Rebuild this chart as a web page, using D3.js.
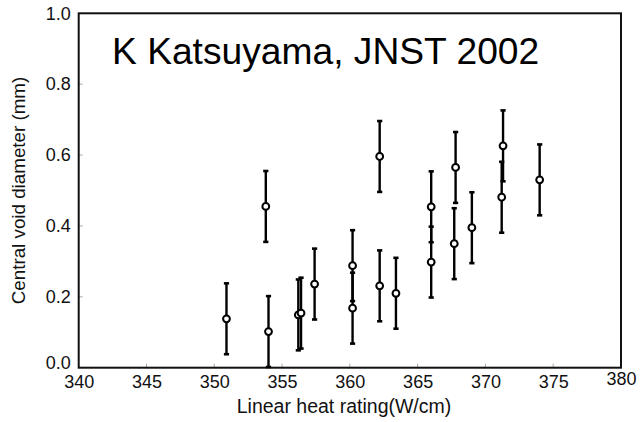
<!DOCTYPE html>
<html>
<head>
<meta charset="utf-8">
<script src="https://cdn.jsdelivr.net/npm/d3@7"></script>
<style>
  html, body { margin: 0; padding: 0; background: #fff; }
  svg { display: block; font-family: "Liberation Sans", Arial, sans-serif; }
</style>
</head>
<body>
<svg id="chart" width="640" height="422"></svg>
<script>
// Central void diameter vs. linear heat rating (K Katsuyama, JNST 2002)
const heatRating = [350.9, 353.8, 354.0, 356.2, 356.4, 357.4, 360.2, 360.2, 362.2, 362.2,
                    363.4, 366.0, 366.0, 367.8, 367.7, 369.0, 371.3, 371.2, 374.0];
const voidDiameter = [0.138, 0.455, 0.102, 0.149, 0.154, 0.236, 0.288, 0.168, 0.596, 0.231,
                      0.210, 0.454, 0.298, 0.565, 0.350, 0.395, 0.626, 0.481, 0.530];
const voidError = [0.1, 0.1, 0.1, 0.1, 0.1, 0.1, 0.1, 0.1, 0.1, 0.1,
                   0.1, 0.1, 0.1, 0.1, 0.1, 0.1, 0.1, 0.1, 0.1];
const xTicks = [340, 345, 350, 355, 360, 365, 370, 375, 380];
const yTicks = [0.0, 0.2, 0.4, 0.6, 0.8, 1.0];

const titleText = "K Katsuyama, JNST 2002";
const xTitle = "Linear heat rating(W/cm)";
const yTitle = "Central void diameter (mm)";

const svg = d3.select("#chart");
const margin = { left: 78.7, right: 19, top: 13.3, bottom: 54.3 };
const W = 640, H = 422;

const x = d3.scaleLinear().domain([340, 380]).range([margin.left, W - margin.right]);
const y = d3.scaleLinear().domain([0, 1]).range([H - margin.bottom, margin.top]);

const points = heatRating.map((h, i) => ({ h, v: voidDiameter[i], e: voidError[i] }));

// inner tick marks (light gray)
const xAxis = d3.axisBottom(x).tickValues(xTicks).tickSize(0).tickFormat(d3.format("d"));
const yAxis = d3.axisLeft(y).tickValues(yTicks).tickSize(0).tickFormat(d3.format(".1f"));

svg.append("g").selectAll("line").data(xTicks.slice(1, -1)).join("line")
  .attr("x1", d => x(d)).attr("x2", d => x(d))
  .attr("y1", y(0)).attr("y2", y(0) - 4)
  .attr("stroke", "#aaa").attr("stroke-width", 1);
svg.append("g").selectAll("line").data(yTicks.slice(1, -1)).join("line")
  .attr("x1", x(340)).attr("x2", x(340) + 4)
  .attr("y1", d => y(d)).attr("y2", d => y(d))
  .attr("stroke", "#aaa").attr("stroke-width", 1);

// axes (labels only; the frame is drawn separately)
const gx = svg.append("g").attr("transform", `translate(0,${y(0)})`).call(xAxis);
gx.select(".domain").remove();
gx.selectAll("text").attr("font-size", 18).attr("fill", "#111")
  .attr("font-family", "Liberation Sans, Arial, sans-serif").attr("dy", "0.95em")
  .filter(d => d === 380).attr("dy", "0.8em");

const gy = svg.append("g").attr("transform", `translate(${x(340)},0)`).call(yAxis);
gy.select(".domain").remove();
gy.selectAll("text").attr("font-size", 18).attr("fill", "#111")
  .attr("font-family", "Liberation Sans, Arial, sans-serif").attr("x", -8)
  .filter(d => d === 0).attr("dy", "0.05em");

// frame
svg.append("rect")
  .attr("x", x(340)).attr("y", y(1))
  .attr("width", x(380) - x(340)).attr("height", y(0) - y(1))
  .attr("fill", "none").attr("stroke", "#111").attr("stroke-width", 2);

// error bars
const bars = svg.append("g").attr("stroke", "#000");
bars.selectAll("line.err").data(points).join("line").attr("class", "err")
  .attr("x1", d => x(d.h)).attr("x2", d => x(d.h))
  .attr("y1", d => y(Math.min(1, d.v + d.e))).attr("y2", d => y(Math.max(0, d.v - d.e)))
  .attr("stroke-width", 2.4);
bars.selectAll("line.capTop").data(points).join("line").attr("class", "capTop")
  .attr("x1", d => x(d.h) - 2.6).attr("x2", d => x(d.h) + 2.6)
  .attr("y1", d => y(d.v + d.e)).attr("y2", d => y(d.v + d.e))
  .attr("stroke-width", 2.6);
bars.selectAll("line.capBot").data(points).join("line").attr("class", "capBot")
  .attr("x1", d => x(d.h) - 2.6).attr("x2", d => x(d.h) + 2.6)
  .attr("y1", d => y(Math.max(0, d.v - d.e))).attr("y2", d => y(Math.max(0, d.v - d.e)))
  .attr("stroke-width", 2.6);

// data points
svg.append("g").selectAll("circle").data(points).join("circle")
  .attr("cx", d => x(d.h)).attr("cy", d => y(d.v)).attr("r", 3.4)
  .attr("fill", "#fff").attr("stroke", "#000").attr("stroke-width", 2);

// titles
svg.append("text").attr("x", 112).attr("y", 63.5)
  .attr("font-size", 37.2).attr("fill", "#000").text(titleText);

svg.append("text").attr("x", 344).attr("y", 413)
  .attr("text-anchor", "middle").attr("font-size", 19.5).attr("fill", "#111").text(xTitle);

svg.append("text")
  .attr("transform", `translate(25,${(y(0) + y(1)) / 2}) rotate(-90)`)
  .attr("text-anchor", "middle").attr("font-size", 18.8).attr("fill", "#111").text(yTitle);
</script>
</body>
</html>
